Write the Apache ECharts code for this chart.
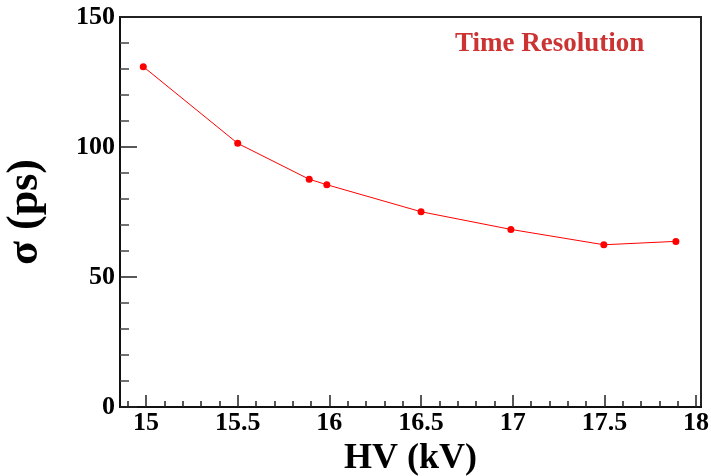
<!DOCTYPE html>
<html>
<head>
<meta charset="utf-8">
<script src="https://cdn.jsdelivr.net/npm/echarts@6/dist/echarts.min.js"></script>
<style>
  html, body { margin: 0; padding: 0; background: #fff; }
  #main { width: 711px; height: 476px; }
</style>
</head>
<body>
<div id="main"></div>
<script>
const hvValues = [14.985, 15.5, 15.89, 15.986, 16.5, 16.99, 17.497, 17.89];
const sigmaValues = [130.9, 101.4, 87.6, 85.5, 75.1, 68.3, 62.4, 63.7];
const xMajorTicks = [15, 15.5, 16, 16.5, 17, 17.5, 18];
const yTickLabels = [0, 50, 100, 150];

const xMinorTicks = [];
for (let i = 149; i <= 180; i++) xMinorTicks.push(i / 10);

const serif = 'Liberation Serif';
const xMin = 14.858, xMax = 18.027;

let myChart = echarts.init(document.getElementById('main'));
let option = {
    animation: false,
    title: {
        text: 'Time Resolution',
        left: 450,
        top: 26,
        textStyle: { fontFamily: serif, fontWeight: 'bold', fontSize: 27, color: '#cc3333' }
    },
    grid: {
        left: 120, top: 17, right: 10, bottom: 69,
        outerBoundsMode: 'none',
        show: true, borderColor: '#222', borderWidth: 2
    },
    xAxis: [{
        type: 'value',
        min: xMin, max: xMax,
        name: 'HV (kV)',
        nameLocation: 'middle',
        nameGap: 32,
        nameTextStyle: { fontFamily: serif, fontWeight: 'bold', fontSize: 36, color: '#000' },
        axisLine: { lineStyle: { color: '#111', width: 2 } },
        axisTick: { inside: true, length: 12, customValues: xMajorTicks, lineStyle: { color: '#222', width: 1.5 } },
        axisLabel: {
            customValues: xMajorTicks, margin: 3,
            fontFamily: serif, fontWeight: 'bold', fontSize: 26, color: '#000'
        },
        splitLine: { show: false }
    }, {
        type: 'value',
        min: xMin, max: xMax,
        position: 'bottom',
        axisLine: { show: false },
        axisTick: { inside: true, length: 6, customValues: xMinorTicks, lineStyle: { color: '#222', width: 1.5 } },
        axisLabel: { show: false },
        splitLine: { show: false }
    }],
    yAxis: {
        type: 'value',
        min: 0, max: 150, interval: 50,
        name: 'σ (ps)',
        nameLocation: 'middle',
        nameRotate: 90,
        nameGap: 72,
        nameTextStyle: { fontFamily: serif, fontWeight: 'bold', fontSize: 44, color: '#000' },
        axisLine: { lineStyle: { color: '#111', width: 2 } },
        axisTick: { inside: true, length: 17, lineStyle: { color: '#222', width: 1.5 } },
        minorTick: { show: true, splitNumber: 5, length: 9, lineStyle: { color: '#444', width: 1.5 } },
        axisLabel: {
            margin: 5,
            fontFamily: serif, fontWeight: 'bold', fontSize: 26, color: '#000',
            formatter: v => yTickLabels.indexOf(v) >= 0 ? String(v) : ''
        },
        splitLine: { show: false }
    },
    series: [{
        type: 'line',
        data: hvValues.map((x, i) => [x, sigmaValues[i]]),
        symbol: 'circle',
        symbolSize: 7,
        itemStyle: { color: '#ff0000' },
        lineStyle: { color: '#ff0000', width: 1 }
    }]
};
myChart.setOption(option);
</script>
</body>
</html>
